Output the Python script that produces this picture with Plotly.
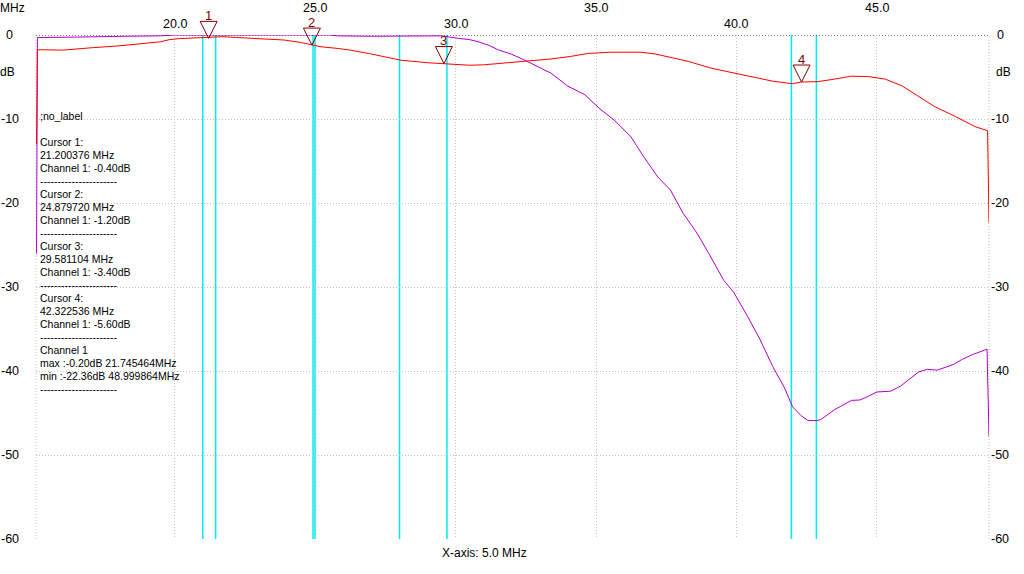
"""Network analyser sweep: Channel 1 response with four cursors."""

import plotly.graph_objects as go

# ---------------------------------------------------------------------------
# Data
# ---------------------------------------------------------------------------
RED_FREQ = [15.07, 15.1, 16.0, 16.5, 17.1, 18.0, 18.8, 19.5, 19.8, 20.2, 20.7,
            21.7, 22.2, 23.0, 23.9, 24.5, 24.88, 25.2, 25.8, 26.25, 26.9, 28.05,
            29.0, 29.58, 30.5, 31.0, 31.6, 32.5, 33.4, 34.1, 34.7, 35.5, 36.6,
            37.1, 37.6, 38.3, 39.1, 39.9, 40.8, 41.3, 42.0, 42.32, 42.7, 42.9,
            43.5, 44.1, 44.7, 45.3, 45.9, 46.5, 47.05, 47.8, 48.5, 48.95, 49.0]
RED_DB = [-13.0, -1.75, -1.8, -1.65, -1.5, -1.3, -1.07, -0.8, -0.55, -0.42, -0.35,
          -0.2, -0.3, -0.45, -0.6, -0.9, -1.2, -1.4, -1.6, -1.8, -2.2, -3.0,
          -3.3, -3.4, -3.6, -3.55, -3.37, -3.05, -2.85, -2.55, -2.2, -2.05, -2.05,
          -2.25, -2.65, -3.15, -3.95, -4.55, -5.15, -5.5, -5.8, -5.6, -5.55, -5.55,
          -5.25, -4.9, -4.95, -5.25, -6.05, -7.3, -8.5, -9.7, -10.9, -11.4, -22.36]

PURPLE_FREQ = [15.07, 15.1, 16.5, 17.0, 18.2, 19.5, 20.0, 25.5, 25.8, 27.0, 28.5,
               29.5, 30.1, 30.5, 30.8, 31.2, 31.5, 32.0, 32.4, 32.8, 33.4, 34.0,
               34.6, 35.14, 35.64, 36.24, 36.7, 37.2, 37.65, 38.1, 38.6, 39.05,
               39.55, 39.9, 40.4, 40.85, 41.3, 41.7, 42.0, 42.3, 42.55, 42.85,
               43.0, 43.5, 43.7, 44.1, 44.4, 44.65, 45.0, 45.5, 45.85, 46.2, 46.5,
               46.8, 47.15, 47.5, 47.75, 48.05, 48.45, 48.93, 49.0]
PURPLE_DB = [-26.0, -0.3, -0.25, -0.2, -0.15, -0.1, 0.0, 0.0, -0.1, -0.15, -0.1,
             -0.1, -0.4, -0.55, -0.8, -1.25, -1.75, -2.3, -2.9, -3.55, -4.55, -6.1,
             -7.1, -8.8, -10.1, -12.1, -14.5, -16.9, -18.45, -21.2, -23.6, -26.2,
             -29.2, -30.6, -33.5, -36.3, -39.5, -41.9, -44.25, -45.3, -45.9, -45.9,
             -45.8, -44.6, -44.25, -43.5, -43.45, -43.1, -42.5, -42.4, -41.8, -40.9,
             -40.1, -39.8, -39.9, -39.5, -39.2, -38.6, -38.0, -37.4, -47.8]

CURSOR_FREQ = [21.200376, 24.879720, 29.581104, 42.322536]
CURSOR_DB = [-0.40, -1.20, -3.40, -5.60]
CURSOR_LABELS = ["1", "2", "3", "4"]

CYAN_FREQ = [20.99, 21.45, 24.92, 24.99, 28.0, 29.69, 41.96, 42.85]

X_TICKS = [20, 25, 30, 35, 40, 45]
X_TICK_TEXT = ["20.0", "25.0", "30.0", "35.0", "40.0", "45.0"]
Y_TICKS = [0, -10, -20, -30, -40, -50, -60]

CH1_MAX = (-0.20, 21.745464)
CH1_MIN = (-22.36, 48.999864)

# ---------------------------------------------------------------------------
# Page geometry
# ---------------------------------------------------------------------------
W, H = 1024, 574
ML, MR, MT, MB = 36, 35, 35, 35
PW, PH = W - ML - MR, H - MT - MB
X_RANGE = [15.05, 49.0]
Y_RANGE = [-60, 0]

FONT = "Liberation Sans"
DARK_RED = "#800000"
CYAN = "#00ecf4"
GRID = "#c0c0c0"
DASHES = "-" * 22


def px_x(px):
    return (px - ML) / PW


def px_y(py):
    return 1 - (py - MT) / PH


def data_to_paper(f, db):
    """Paper fractions of a data point (so the marker is not clipped)."""
    xp = (f - X_RANGE[0]) / (X_RANGE[1] - X_RANGE[0])
    yp = (db - Y_RANGE[0]) / (Y_RANGE[1] - Y_RANGE[0])
    return xp, yp


def info_lines():
    lines = [";no_label", ""]
    for i, (f, db) in enumerate(zip(CURSOR_FREQ, CURSOR_DB)):
        lines += [f"Cursor {i + 1}:", f"{f:.6f} MHz", f"Channel 1: {db:.2f}dB", DASHES]
    lines += ["Channel 1",
              f"max :{CH1_MAX[0]:.2f}dB {CH1_MAX[1]:.6f}MHz",
              f"min :{CH1_MIN[0]:.2f}dB {CH1_MIN[1]:.6f}MHz",
              DASHES]
    return lines


def label(fig, text, x, y, xref="paper", yref="paper", size=12.5, **kw):
    fig.add_annotation(x=x, y=y, xref=xref, yref=yref, text=text, showarrow=False,
                       xanchor=kw.pop("xanchor", "center"), yanchor="middle",
                       font=dict(family=FONT, size=size, color=kw.pop("color", "black")),
                       **kw)


fig = go.Figure()

fig.add_trace(go.Scatter(x=PURPLE_FREQ, y=PURPLE_DB, mode="lines",
                         line=dict(color="#b000c4", width=1), showlegend=False))
fig.add_trace(go.Scatter(x=RED_FREQ, y=RED_DB, mode="lines",
                         line=dict(color="#ff0000", width=1), showlegend=False))

# cursor lines
for f in CYAN_FREQ:
    fig.add_shape(type="line", xref="x", yref="paper", x0=f, x1=f, y0=0, y1=1,
                  line=dict(color=CYAN, width=1.5), layer="between")

# frame: 0 dB black dotted, sides gray dotted
fig.add_shape(type="line", xref="paper", yref="y", x0=0, x1=1, y0=0, y1=0,
              line=dict(color="black", width=1, dash="1px,2px"), layer="between")
for xp in (0, 1):
    fig.add_shape(type="line", xref="paper", yref="paper", x0=xp, x1=xp, y0=0, y1=1,
                  line=dict(color=GRID, width=1, dash="1px,2px"), layer="between")

# cursor markers (open triangles, tip on the trace)
for f, db, lab in zip(CURSOR_FREQ, CURSOR_DB, CURSOR_LABELS):
    xp, yp = data_to_paper(f, db)
    fig.add_shape(type="path", xref="paper", yref="paper", xsizemode="pixel",
                  ysizemode="pixel", xanchor=xp, yanchor=yp,
                  path="M-8.5,17 L8.5,17 L0,0 Z",
                  line=dict(color=DARK_RED, width=1), layer="above")
    label(fig, lab, f, db, xref="x", yref="y", size=13, color=DARK_RED, yshift=23)

# staggered x labels
for i, (v, t) in enumerate(zip(X_TICKS, X_TICK_TEXT)):
    label(fig, t, v, px_y(24 if i % 2 == 0 else 8), xref="x")

# y labels on both sides
for v in Y_TICKS:
    for xpx in (9.5, 1000):
        label(fig, str(v), px_x(xpx), v, yref="y")

for txt, xpx, ypx in [("MHz", 12, 8), ("dB", 7, 72), ("dB", 1003, 72),
                      ("X-axis: 5.0 MHz", 484, 553)]:
    label(fig, txt, px_x(xpx), px_y(ypx), size=12)

# cursor read-out block
for i, line in enumerate(info_lines()):
    if line:
        label(fig, line, px_x(38), px_y(116 + 13 * i), size=10.5, xanchor="left")

fig.update_xaxes(range=X_RANGE, tickvals=X_TICKS, showticklabels=False,
                 showgrid=True, gridcolor=GRID, griddash="1px,2px", gridwidth=1,
                 zeroline=False, showline=False, ticks="")
fig.update_yaxes(range=Y_RANGE, tickvals=Y_TICKS[1:], showticklabels=False,
                 showgrid=True, gridcolor=GRID, griddash="1px,2px", gridwidth=1,
                 zeroline=False, showline=False, ticks="")
fig.update_layout(
    width=W, height=H,
    margin=dict(l=ML, r=MR, t=MT, b=MB),
    plot_bgcolor="white", paper_bgcolor="white",
    showlegend=False,
)

fig.write_html("out.html", config={"displayModeBar": False},
               post_script="document.body.style.margin='0';")
